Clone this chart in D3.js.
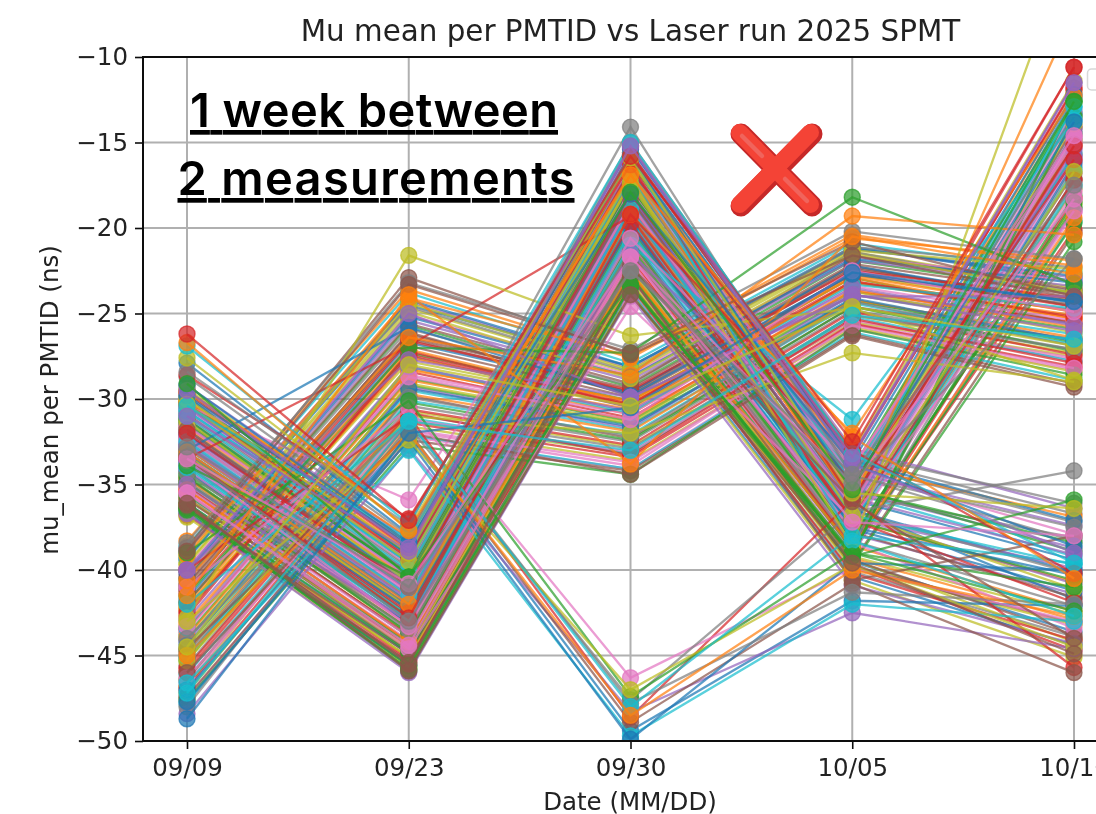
<!DOCTYPE html>
<html><head><meta charset="utf-8">
<script src="https://cdn.jsdelivr.net/npm/d3@7"></script>
<style>html,body{margin:0;background:#fff;overflow:hidden}svg{display:block}</style>
</head><body><svg id="c" width="1096" height="814"></svg>
<script>
const dates=["09/09","09/23","09/30","10/05","10/10"];
const yTicks=[-10,-15,-20,-25,-30,-35,-40,-45,-50];
const colours=["#1f77b4","#ff7f0e","#2ca02c","#d62728","#9467bd","#8c564b","#e377c2","#7f7f7f","#bcbd22","#17becf"];
const titleText="Mu mean per PMTID vs Laser run 2025 SPMT";
const notes=["1 week between","2 measurements"];
const noteWidths=[368,397];
const muMean=[
[-31.2,-40.4,-17.1,-34.9,-13.3],[-34.7,-43.4,-21.7,-38.6,-42.4],[-43.8,-28.8,-31.3,-23.9,-25.9],[-32.3,-41.2,-18.2,-35.8,-14.1],[-35.7,-44.8,-22.3,-39.1,-18.9],[-40.8,-26.2,-29.6,-22.3,-24.3],[-30.6,-39.4,-16.8,-34.2,-37.9],[-33.2,-42.3,-19.6,-37.3,-16.4],[-46.4,-31.3,-33.2,-25.1,-27.3],[-31.8,-40.7,-17.8,-35.5,-39.2],
[-36.1,-44.9,-22.6,-39.5,-43.6],[-33.9,-42.7,-19.9,-37.2,-17.7],[-41.9,-27.3,-30.1,-22.9,-25.6],[-29.5,-38.6,-15.7,-33.3,-11.9],[-34.2,-43.2,-20.8,-37.9,-41.4],[-45.1,-29.8,-32.3,-24.6,-26.5],[-32.5,-41.5,-18.6,-36.2,-15.3],[-30.8,-39.8,-16.6,-34.5,-38.3],[-39.6,-24.7,-28.5,-21.4,-23.5],[-35.1,-44.3,-21.4,-38.8,-19.6],
[-32.9,-41.8,-19.1,-36.5,-40.1],[-43.3,-28.2,-30.9,-23.1,-25.3],[-31.5,-40.2,-17.5,-35.1,-14.5],[-36.3,-45.2,-23.2,-39.8,-44.7],[-38.8,-24.3,-28.2,-21.2,-22.9],[-33.6,-42.6,-19.8,-37.4,-17.2],[-47.1,-31.9,-33.9,-25.6,-27.7],[-29.9,-39.1,-15.9,-33.8,-37.2],[-34.6,-43.7,-21.1,-38.2,-18.6],[-44.7,-29.5,-31.8,-24.3,-26.2],
[-30.4,-39.6,-16.5,-34.7,-12.4],[-35.5,-44.5,-22.5,-39.3,-42.9],[-40.5,-25.7,-29.3,-21.9,-23.8],[-32.1,-40.9,-18.4,-35.7,-15.7],[-33.3,-42.1,-19.5,-36.9,-39.9],[-42.4,-27.5,-30.5,-23.2,-24.8],[-31.4,-40.6,-17.6,-35.2,-13.6],[-36.7,-45.5,-23.5,-40.1,-43.9],[-46.8,-30.7,-32.8,-25.5,-27.5],[-34.1,-42.9,-20.4,-37.6,-17.6],
[-33.1,-41.9,-18.9,-36.4,-41.7],[-30.1,-39.3,-16.3,-34.4,-12.1],[-44.1,-29.2,-31.5,-24.2,-26.7],[-35.3,-44.2,-21.8,-38.7,-20.1],[-31.9,-40.8,-18.1,-35.4,-38.7],[-41.1,-26.5,-29.7,-22.2,-24.6],[-32.8,-41.7,-19.2,-36.7,-16.1],[-45.6,-30.4,-32.5,-24.8,-27.1],[-36.2,-45.1,-22.7,-39.4,-44.2],[-30.7,-39.5,-16.9,-34.6,-13.2],
[-39.3,-24.5,-28.1,-21.1,-23.1],[-33.4,-42.2,-20.1,-37.1,-40.7],[-34.9,-43.9,-21.5,-38.4,-18.1],[-43.5,-28.4,-31.1,-23.7,-25.5],[-31.6,-40.1,-17.4,-35.3,-15.8],[-35.8,-44.7,-22.8,-39.8,-43.1],[-47.5,-32.2,-34.1,-25.9,-28.3],[-29.6,-38.7,-15.6,-33.5,-36.7],[-42.2,-27.8,-30.3,-22.7,-24.9],[-32.7,-41.6,-18.7,-36.1,-14.8],
[-33.2,-42.1,-19.8,-37.4,-16.2],[-42.3,-27.6,-30.1,-22.8,-24.9],[-31.4,-40.2,-17.6,-35.2,-38.9],[-35.1,-43.8,-21.4,-38.6,-18.3],[-44.2,-29.3,-31.7,-23.9,-25.6],[-34.6,-43.2,-20.9,-37.8,-41.6],[-30.8,-39.7,-16.9,-34.6,-13.1],[-40.6,-25.9,-29.2,-21.4,-23.7],[-36.2,-45.1,-23.1,-39.9,-43.2],[-46.1,-31.1,-33.2,-25.2,-27.8],
[-39.4,-24.2,-28.1,-21.2,-22.8],[-32.9,-41.6,-18.7,-36.2,-14.9],[-45.3,-30.2,-32.4,-24.6,-27.2],[-29.7,-38.8,-15.6,-33.4,-11.8],[-33.8,-42.9,-20.3,-36.9,-40.8],[-41.2,-26.1,-29.8,-22.4,-24.2],[-35.4,-44.1,-21.9,-38.9,-19.1],[-31.9,-40.8,-17.4,-35.6,-38.1],[-47.2,-31.6,-33.6,-25.8,-28.4],[-32.4,-41.1,-18.4,-36.4,-15.6],
[-34.2,-43.1,-20.6,-37.6,-41.2],[-43.1,-28.3,-30.6,-23.2,-25.1],[-30.2,-39.1,-16.2,-34.1,-12.6],[-36.8,-45.3,-23.4,-40.2,-44.1],[-40.2,-25.4,-28.9,-21.9,-23.4],[-33.4,-42.4,-19.4,-36.8,-16.8],[-46.6,-31.2,-33.1,-25.4,-27.6],[-31.1,-40.1,-17.2,-35.1,-14.2],[-35.8,-44.6,-22.4,-39.2,-42.6],[-38.6,-23.8,-27.9,-20.9,-22.6],
[-32.1,-40.6,-18.1,-35.9,-39.4],[-44.8,-29.7,-31.9,-24.2,-26.4],[-34.9,-43.4,-21.1,-38.1,-18.8],[-42.7,-27.2,-30.4,-22.6,-24.6],[-30.5,-39.4,-16.4,-34.3,-37.4],[-36.4,-44.9,-22.9,-39.6,-20.3],[-43.6,-28.6,-30.9,-23.4,-25.4],[-33.1,-41.9,-19.1,-36.6,-40.2],[-29.4,-38.4,-15.2,-33.1,-11.4],[-47.8,-32.1,-34.1,-26.1,-28.9],
[-41.7,-26.7,-29.6,-22.2,-24.4],[-31.7,-40.5,-17.9,-35.4,-15.2],[-34.4,-42.7,-20.1,-37.1,-40.6],[-45.7,-30.6,-32.7,-24.9,-27.4],[-32.7,-41.4,-18.9,-36.1,-14.4],[-35.9,-44.4,-22.1,-39.4,-43.8],[-39.9,-25.1,-28.6,-21.7,-23.1],[-30.9,-39.9,-17.1,-34.8,-13.4],[-44.6,-29.1,-31.4,-23.7,-26.1],[-33.6,-42.6,-19.6,-37.2,-17.4],
[-36.6,-45.6,-23.7,-40.4,-44.4],[-42.1,-27.1,-30.2,-22.9,-25.3],[-31.2,-40.3,-17.7,-35.3,-38.4],[-46.9,-31.4,-33.4,-25.6,-28.1],[-32.6,-41.2,-18.5,-36.3,-15.4],[-40.9,-26.4,-29.4,-22.1,-23.9],[-34.1,-43.3,-20.8,-37.7,-17.9],[-38.9,-24.6,-28.4,-21.1,-22.3],[-33.3,-42.2,-19.3,-36.7,-41.1],[-45.1,-30.1,-32.1,-24.4,-26.8],
[-29.9,-39.2,-15.9,-33.7,-12.2],[-43.9,-28.9,-31.2,-23.6,-25.8],[-35.6,-44.3,-22.2,-38.8,-19.7],[-41.4,-26.6,-29.5,-22.5,-24.1],[-32.2,-40.9,-18.2,-35.8,-39.1],[-47.4,-32.4,-34.2,-26.2,-29.1],[-31.6,-40.4,-17.8,-35.5,-14.6],[-34.8,-43.6,-21.2,-38.3,-42.1],[-39.2,-24.4,-28.3,-21.3,-22.4],[-33.9,-42.8,-20.2,-37.3,-16.6],
[-44.4,-29.4,-31.6,-24.1,-26.6],[-30.1,-38.9,-16.1,-33.9,-36.9],[-36.1,-44.8,-22.7,-39.7,-20.8],[-42.5,-27.4,-30.3,-23.1,-25.2],[-32.8,-41.7,-18.8,-36.5,-15.9],[-40.4,-25.6,-29.1,-21.6,-23.6],[-35.2,-43.9,-21.6,-38.4,-43.4],[-46.4,-30.9,-32.9,-25.1,-27.1],[-31.3,-40.7,-17.3,-35.7,-13.9],[-43.4,-28.1,-30.8,-23.3,-24.7],
[-33.7,-42.3,-19.9,-37.5,-40.3],[-38.3,-23.6,-27.6,-20.6,-21.9],[-34.5,-43.7,-20.7,-38.2,-18.5],[-45.9,-30.8,-33.3,-25.3,-27.9],[-29.2,-38.2,-15.4,-32.9,-36.4],[-41.9,-26.9,-29.9,-22.7,-24.5],[-32.3,-41.3,-18.6,-36.3,-14.7],[-44.9,-29.9,-32.2,-24.3,-26.9],[-36.9,-45.7,-23.8,-40.6,-45.1],[-30.7,-39.6,-16.7,-34.4,-12.9],
[-40.1,-25.2,-28.7,-21.8,-23.2],[-35.3,-44.2,-22.6,-38.7,-19.4],[-47.6,-32.7,-34.4,-25.9,-28.6],[-33.5,-42.5,-19.7,-37.1,-41.9],[-42.9,-28.1,-30.7,-23.5,-25.7],[-31.8,-40.9,-18.3,-35.9,-15.1],[-46.3,-31.8,-33.7,-25.7,-28.2],[-34.3,-43.5,-21.3,-38.5,-17.1],[-39.7,-24.9,-28.8,-21.5,-23.8],[-32.5,-41.5,-18.9,-36.8,-39.7],
[-27.9,-37.9,-15.3,-33.6,-37.1],[-39.1,-24.1,-27.5,-20.4,-22.2],[-36.4,-45.9,-23.9,-39.1,-13.5],[-33.5,-26.9,-19.3,-37.0,-17.2],[-36.7,-46.0,-24.0,-40.9,-44.3],[-38.7,-22.9,-27.4,-21.6,-24.1],[-30.4,-35.9,-16.4,-34.0,-15.0],[-38.4,-23.2,-27.1,-20.2,-21.8],[-42.8,-21.6,-26.3,-24.7,-28.9],[-34.0,-42.9,-21.0,-31.2,-13.7],
[-33.0,-25.8,-29.8,-22.7,-24.3],[-33.1,-42.0,-19.2,-32.0,-12.3],[-36.5,-45.8,-23.4,-39.2,-12.6],[-30.3,-39.3,-16.6,-33.0,-10.6],[-35.0,-43.0,-21.5,-33.3,-11.5],[-44.6,-32.0,-34.4,-26.3,-29.3],[-35.5,-44.6,-24.6,-37.0,-19.0],[-28.7,-38.0,-15.0,-33.2,-36.1],[-45.3,-31.0,-32.0,-27.3,-29.0],[-31.0,-40.0,-17.0,-34.9,-12.9],
[-47.0,-32.1,-49.4,-41.8,-42.1],[-29.6,-38.1,-16.8,-36.0,-7.4],[-41.5,-27.0,-27.3,-18.2,-23.3],[-40.0,-31.0,-48.6,-35.9,-45.7],[-48.4,-32.9,-48.3,-42.5,-44.6],[-46.0,-31.9,-48.9,-40.8,-46.0],[-41.0,-30.5,-46.3,-39.9,-43.0],[-48.0,-31.6,-47.6,-36.6,-34.2],[-30.0,-39.0,-17.0,-38.6,-3.0],[-46.6,-33.0,-49.7,-42.0,-43.0],
[-47.7,-32.4,-49.9,-39.6,-40.0],[-40.6,-26.4,-28.6,-19.3,-20.4],[-39.0,-30.1,-47.4,-39.0,-41.0],[-32.0,-41.0,-18.0,-35.0,-16.0],[-40.0,-27.7,-29.9,-24.0,-24.0],[-36.3,-45.4,-22.8,-40.6,-38.0],[-43.3,-28.7,-31.2,-22.5,-24.9],[-44.0,-31.3,-47.8,-41.3,-42.0],[-43.0,-32.4,-47.0,-39.7,-44.5],[-42.0,-31.3,-48.0,-38.0,-39.6],
[-29.8,-38.5,-15.8,-35.2,-13.8],[-45.0,-32.0,-48.5,-40.0,-42.7],[-36.4,-45.6,-23.4,-39.0,-42.4],[-28.6,-37.0,-16.3,-35.9,-15.2],[-40.0,-25.0,-29.9,-23.9,-26.0],[-38.9,-23.3,-27.3,-20.8,-24.0],[-33.6,-43.3,-20.6,-34.0,-14.6],[-28.4,-37.4,-14.1,-34.5,-37.5],[-30.3,-39.5,-17.4,-36.8,-16.7],[-30.4,-38.2,-15.7,-38.3,-42.7],
[-29.2,-38.4,-18.0,-33.8,-38.6],[-41.5,-23.9,-33.8,-20.5,-22.7],[-33.9,-40.4,-23.3,-39.2,-35.9],[-33.4,-42.8,-19.2,-33.0,-40.2],[-29.5,-38.7,-15.2,-33.8,-39.0],[-36.2,-45.5,-22.2,-36.0,-44.0],[-35.5,-44.4,-21.7,-35.0,-18.3],[-33.4,-43.0,-22.5,-34.4,-17.5],[-27.6,-37.6,-15.9,-35.5,-36.4],[-26.9,-37.3,-15.0,-33.2,-39.6],
[-48.7,-32.0,-30.5,-22.6,-24.3],[-26.7,-37.7,-16.9,-32.2,-40.5],[-29.1,-40.4,-17.9,-35.3,-12.6],[-26.2,-37.1,-15.8,-32.5,-10.6],[-31.0,-38.9,-15.2,-33.4,-11.5],[-36.1,-45.9,-23.9,-39.6,-44.9],[-33.5,-40.8,-21.7,-37.2,-38.0],[-32.8,-41.0,-22.5,-34.9,-21.8],[-44.5,-28.0,-30.4,-24.6,-26.9],[-47.2,-31.3,-33.0,-25.1,-26.5]
];

const x=d3.scalePoint().domain(dates).range([187,1074]);
const y=d3.scaleLinear().domain([-50,-10]).range([741,57]);
const colour=d3.scaleOrdinal(colours);
const plot={left:143,right:1118,top:57,bottom:741};
const svg=d3.select("#c");
const defs=svg.append("defs");
defs.append("clipPath").attr("id","pc").append("rect").attr("x",plot.left).attr("y",plot.top).attr("width",plot.right-plot.left).attr("height",plot.bottom-plot.top);
const soft=defs.append("filter").attr("id","soft").attr("x",0).attr("y",0).attr("width",1096).attr("height",814).attr("filterUnits","userSpaceOnUse");
soft.append("feGaussianBlur").attr("stdDeviation",0.55);

const chart=svg.append("g").attr("filter","url(#soft)");
const grid=chart.append("g").attr("stroke","#b0b0b0").attr("stroke-width",2);
grid.selectAll(".v").data(dates).join("line").attr("x1",d=>x(d)).attr("x2",d=>x(d)).attr("y1",plot.top).attr("y2",plot.bottom);
grid.selectAll(".h").data(yTicks).join("line").attr("x1",plot.left).attr("x2",plot.right).attr("y1",d=>y(d)).attr("y2",d=>y(d));

const marks=chart.append("g").attr("clip-path","url(#pc)");
const line=d3.line().x((d,i)=>x(dates[i])).y(d=>y(d));
muMean.forEach((row,k)=>{
  const c=colour(k%10);
  const g=marks.append("g");
  g.append("path").attr("d",line(row)).attr("fill","none").attr("stroke",c).attr("stroke-width",2.3).attr("stroke-opacity",0.72);
  g.selectAll("circle").data(row).join("circle").attr("cx",(d,i)=>x(dates[i])).attr("cy",d=>y(d)).attr("r",8).attr("fill",c).attr("fill-opacity",0.72).attr("stroke",c).attr("stroke-opacity",0.72).attr("stroke-width",1.4);
});

chart.append("rect").attr("x",1087.5).attr("y",69).attr("width",20).attr("height",21).attr("rx",4).attr("fill","#fff").attr("fill-opacity",0.8).attr("stroke","#d8d8d8").attr("stroke-width",1.5);

const fontAxis="'DejaVu Sans',sans-serif";
const xAxis=chart.append("g").attr("transform",`translate(0,${plot.bottom})`).call(d3.axisBottom(x).tickSize(8).tickPadding(10));
const yAxis=chart.append("g").attr("transform",`translate(${plot.left},0)`).call(d3.axisLeft(y).tickValues(yTicks).tickSize(8).tickPadding(7));
[xAxis,yAxis].forEach(a=>{a.selectAll("text").attr("font-family",fontAxis).attr("font-size",24.5).attr("fill","#222");a.selectAll("line").attr("stroke","#111").attr("stroke-width",1.6);a.select(".domain").remove();});

const spine=chart.append("g").attr("stroke","#111").attr("stroke-width",2);
spine.append("line").attr("x1",plot.left).attr("x2",plot.left).attr("y1",plot.top-1).attr("y2",plot.bottom+1);
spine.append("line").attr("x1",plot.left).attr("x2",1096).attr("y1",plot.top).attr("y2",plot.top);
spine.append("line").attr("x1",plot.left).attr("x2",1096).attr("y1",plot.bottom).attr("y2",plot.bottom);

chart.append("text").attr("x",630.5).attr("y",41).attr("text-anchor","middle").attr("font-family",fontAxis).attr("font-size",29.4).attr("fill","#222").text(titleText);
chart.append("text").attr("x",630).attr("y",810).attr("text-anchor","middle").attr("font-family",fontAxis).attr("font-size",24.5).attr("fill","#222").text("Date (MM/DD)");
chart.append("text").attr("transform","translate(58,400) rotate(-90)").attr("text-anchor","middle").attr("font-family",fontAxis).attr("font-size",24.5).attr("fill","#222").text("mu_mean per PMTID (ns)");

const noteY=[127,195],noteX=[374,376];
svg.selectAll(".note").data(notes).join("text").attr("x",(d,i)=>noteX[i]).attr("y",(d,i)=>noteY[i]).attr("text-anchor","middle").attr("font-family","Inter,sans-serif").attr("font-weight",600).attr("font-size",47).attr("textLength",(d,i)=>noteWidths[i]).attr("lengthAdjust","spacing").attr("text-decoration","underline").attr("fill","#000").text(d=>d);

const cross=svg.append("g").attr("fill","none").attr("stroke-linecap","round");
const armA=[[741,134],[812,206]],armB=[[812,134],[741,206]];
const arm=d3.line();
[armA,armB].forEach(a=>{cross.append("path").attr("d",arm(a)).attr("stroke","#c62828").attr("stroke-width",21);});
[armA,armB].forEach(a=>{cross.append("path").attr("d",arm(a)).attr("stroke","#f44336").attr("stroke-width",17).attr("transform","translate(-1.5,-1.5)");});
cross.append("path").attr("d",arm([[742,136],[762,156]])).attr("stroke","#f0645c").attr("stroke-width",4.5);
cross.append("path").attr("d",arm([[785,179],[807,201]])).attr("stroke","#f0645c").attr("stroke-width",4.5);
</script></body></html>
